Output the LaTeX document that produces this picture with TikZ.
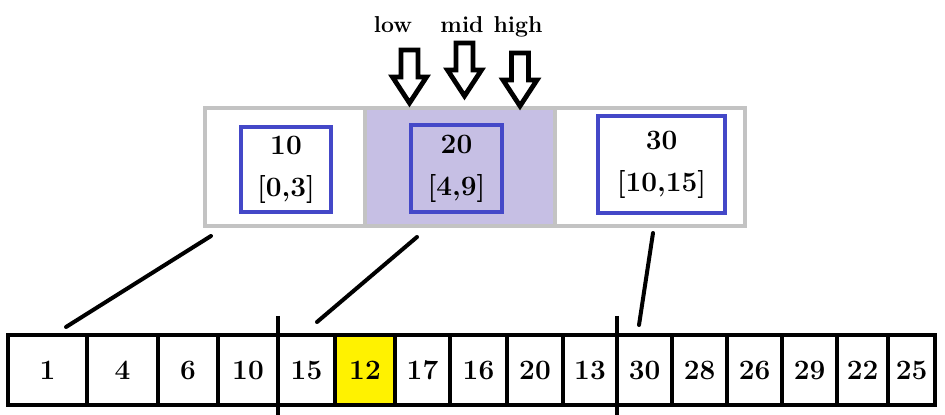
\documentclass[tikz,border=0pt]{standalone}
\usepackage{xcolor}
\usepackage{tikz}

\definecolor{boxgray}{HTML}{C3C3C3}
\definecolor{keyblue}{HTML}{4448C8}
\definecolor{slotfill}{HTML}{C6BFE4}
\definecolor{hityellow}{HTML}{FFF200}

\tikzset{downptr/.pic={
    \draw[line width=2.4pt, line join=miter] (-8.5,0) -- (8.5,0) -- (8.5,27) -- (17,27) -- (0,53) -- (-17,27) -- (-8.5,27) -- cycle;
}}

\begin{document}
\begin{tikzpicture}[x=0.5pt, y=-0.5pt]
    \tikzstyle{cell} = [rectangle, draw, line width=2pt, minimum height=35pt, inner sep=0pt, font=\fontsize{14}{16}\selectfont\bfseries]
    \tikzstyle{slot} = [rectangle, draw=boxgray, line width=2pt, minimum height=59pt, inner sep=0pt]
    \tikzstyle{key} = [rectangle, draw=keyblue, line width=2pt, inner sep=0pt, align=center, font=\fontsize{14}{21}\selectfont\bfseries]
    \tikzstyle{tag} = [anchor=base, font=\fontsize{11.5}{13}\selectfont\bfseries]
    \tikzstyle{line} = [draw, line width=2pt, line cap=round]
    \tikzstyle{cut} = [draw, line width=2pt]

    \useasboundingbox (0,0) rectangle (945,415);

    % index blocks
    \node [slot] (g1) at (285,167) [minimum width=80pt] {};
    \node [slot, fill=slotfill] (g2) at (460,167) [minimum width=95pt] {};
    \node [slot] (g3) at (650,167) [minimum width=95pt] {};

    \node [key, minimum width=45pt, minimum height=42.5pt] (b1) at (286,169.5) {10\\{[}0,3{]}};
    \node [key, minimum width=45.5pt, minimum height=43.5pt] (b2) at (456.5,168.5) {20\\{[}4,9{]}};
    \node [key, minimum width=63.5pt, minimum height=48.5pt] (b3) at (661.5,164.5) {30\\{[}10,15{]}};

    % search pointers
    \node [tag] (lowtag) at (393,33) {low};
    \node [tag] (midtag) at (462,33) {mid};
    \node [tag] (hightag) at (518,33) {high};
    \pic at (409.5,50) {downptr};
    \pic at (464.5,43) {downptr};
    \pic at (520,53) {downptr};

    % data array
    \node [cell, minimum width=39.5pt] (c1) at (47.5,370) {1};
    \node [cell, minimum width=35.5pt] (c2) at (122.5,370) {4};
    \node [cell, minimum width=30pt] (c3) at (188,370) {6};
    \node [cell, minimum width=30pt] (c4) at (248,370) {10};
    \node [cell, minimum width=28.5pt] (c5) at (306.5,370) {15};
    \node [cell, minimum width=30pt, fill=hityellow] (c6) at (365,370) {12};
    \node [cell, minimum width=27.5pt] (c7) at (422.5,370) {17};
    \node [cell, minimum width=28.5pt] (c8) at (478.5,370) {16};
    \node [cell, minimum width=28pt] (c9) at (535,370) {20};
    \node [cell, minimum width=27pt] (c10) at (590,370) {13};
    \node [cell, minimum width=27.5pt] (c11) at (644.5,370) {30};
    \node [cell, minimum width=27.5pt] (c12) at (699.5,370) {28};
    \node [cell, minimum width=27.5pt] (c13) at (754.5,370) {26};
    \node [cell, minimum width=27.5pt] (c14) at (809.5,370) {29};
    \node [cell, minimum width=25.5pt] (c15) at (862.5,370) {22};
    \node [cell, minimum width=23.5pt] (c16) at (911.5,370) {25};

    % block boundaries
    \coordinate (cutAtop) at (278,316);
    \coordinate (cutAbot) at (278,415);
    \coordinate (cutBtop) at (617,316);
    \coordinate (cutBbot) at (617,415);
    \path [cut] (cutAtop) -- (cutAbot);
    \path [cut] (cutBtop) -- (cutBbot);

    % links from index to array
    \coordinate (g1foot) at (211,236);
    \coordinate (c1head) at (66,327);
    \coordinate (g2foot) at (417,237);
    \coordinate (c5head) at (317,322);
    \coordinate (g3foot) at (653,233);
    \coordinate (c11head) at (639,325);
    \path [line] (g1foot) -- (c1head);
    \path [line] (g2foot) -- (c5head);
    \path [line] (g3foot) -- (c11head);
\end{tikzpicture}
\end{document}
